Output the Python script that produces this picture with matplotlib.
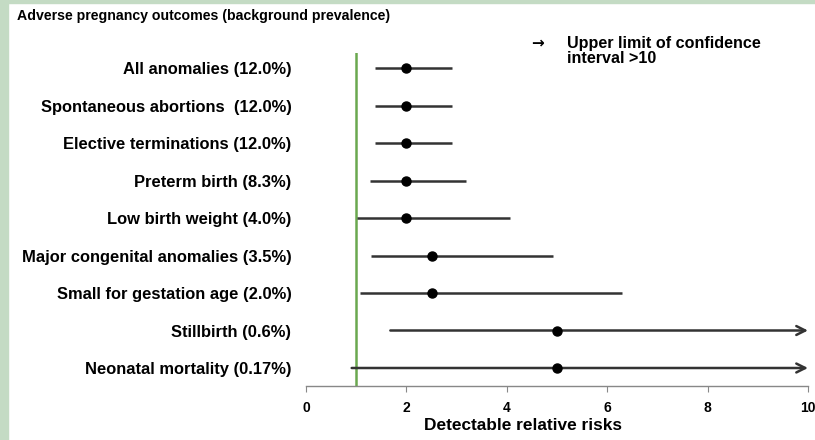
import matplotlib
matplotlib.use("Agg")
import matplotlib.pyplot as plt

plt.rcParams['font.family'] = ['Liberation Sans', 'DejaVu Sans']

outcomes = ["All anomalies (12.0%)", "Spontaneous abortions  (12.0%)", "Elective terminations (12.0%)",
            "Preterm birth (8.3%)", "Low birth weight (4.0%)", "Major congenital anomalies (3.5%)",
            "Small for gestation age (2.0%)", "Stillbirth (0.6%)", "Neonatal mortality (0.17%)"]
rr = [2.0, 2.0, 2.0, 2.0, 2.0, 2.5, 2.5, 5.0, 5.0]
lower = [1.38, 1.38, 1.38, 1.27, 1.02, 1.30, 1.07, 1.68, 0.91]
upper = [2.90, 2.90, 2.90, 3.19, 4.06, 4.92, 6.30, 10.0, 10.0]
upper_gt10 = [False, False, False, False, False, False, False, True, True]
xticks = [0, 2, 4, 6, 8, 10]
ref_line = 1.0

W, H = 815, 440
fig = plt.figure(figsize=(W/100, H/100), dpi=100)
fig.patch.set_facecolor('white')
fig.patches.append(plt.Rectangle((0, 0), 8/W, 1, transform=fig.transFigure, color='#c4dbc4', zorder=0))
fig.patches.append(plt.Rectangle((0, 1-3/H), 1, 3/H, transform=fig.transFigure, color='#c4dbc4', zorder=0))

L, R = 306, 808
ax = fig.add_axes([L/W, 1-386/H, (R-L)/W, (386-53)/H])
n = len(outcomes)
ys = [n-1-i for i in range(n)]
for y, p, lo, hi, arr in zip(ys, rr, lower, upper, upper_gt10):
    if arr:
        ax.annotate('', xy=(hi, y), xytext=(lo, y),
                    arrowprops=dict(arrowstyle='->', color='#333333', lw=1.8,
                                    shrinkA=0, shrinkB=0, mutation_scale=16))
    else:
        ax.plot([lo, hi], [y, y], color='#333333', lw=1.8, solid_capstyle='butt')
    ax.plot(p, y, 'o', color='black', ms=6.5, zorder=5)

ax.axvline(ref_line, color='#6aa84f', lw=1.8, zorder=1)
ax.set_xlim(0, 10)
ax.set_ylim(-0.48, 8.4)
ax.set_yticks(ys)
ax.set_yticklabels(outcomes, fontsize=11.9, fontweight='bold')
ax.tick_params(axis='y', length=0, pad=10.5)
ax.set_xticks(xticks)
ax.set_xticklabels([str(t) for t in xticks], fontsize=10, fontweight='bold')
ax.tick_params(axis='x', length=4, color='#888888', pad=7, direction='out')
for s in ['top', 'right', 'left']:
    ax.spines[s].set_visible(False)
ax.spines['bottom'].set_color('#888888')
ax.spines['bottom'].set_linewidth(1.0)
ax.set_xlabel('Detectable relative risks', fontsize=12.4, fontweight='bold')
ax.xaxis.set_label_coords((523-L)/(R-L), -(425-386)/(386-53), transform=ax.transAxes)
ax.xaxis.label.set_va('center')

fig.text(17/W, 1-16/H, 'Adverse pregnancy outcomes (background prevalence)', fontsize=10.2,
         fontweight='bold', va='center', ha='left')
fig.text(531/W, 1-43/H, '\u2192', fontsize=11, fontweight='bold', va='center', ha='left',
         family=['DejaVu Sans'])
fig.text(567/W, 1-51/H, 'Upper limit of confidence\ninterval >10', fontsize=11.6, fontweight='bold',
         va='center', ha='left', linespacing=1.0)

fig.savefig('out.png', dpi=100)
